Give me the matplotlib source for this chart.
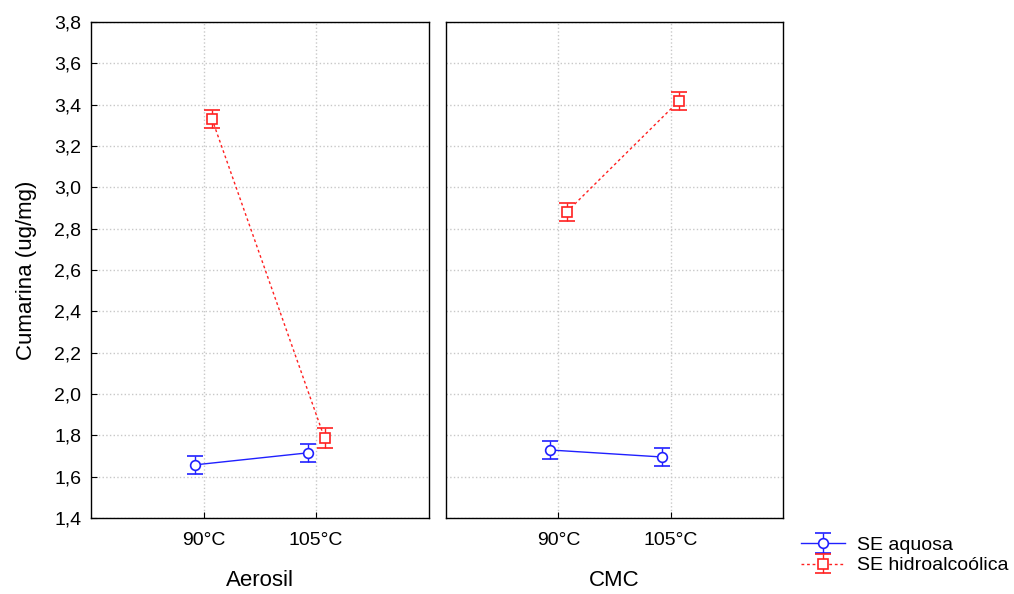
import numpy as np
import matplotlib.pyplot as plt
from matplotlib.ticker import FuncFormatter

plt.rcParams['font.family'] = ['Liberation Sans', 'DejaVu Sans']

temps = ['90°C', '105°C']
paineis = ['Aerosil', 'CMC']
aquosa = {'Aerosil': [1.657, 1.715], 'CMC': [1.729, 1.695]}
hidro = {'Aerosil': [3.331, 1.787], 'CMC': [2.881, 3.418]}
erro_aq = {'Aerosil': [0.045, 0.045], 'CMC': [0.045, 0.045]}
erro_hi = {'Aerosil': [0.045, 0.05], 'CMC': [0.045, 0.045]}

fig = plt.figure(figsize=(10.14, 5.94), dpi=100)
ax1 = fig.add_axes([0.0897, 0.128, 0.333, 0.835])
ax2 = fig.add_axes([0.440, 0.128, 0.332, 0.835], sharey=ax1)

x = np.arange(1, len(temps) + 1)
dx = 0.075
virg = FuncFormatter(lambda v, p: ('%.1f' % v).replace('.', ','))

for ax, nome in zip([ax1, ax2], paineis):
    ea = ax.errorbar(x - dx, aquosa[nome], yerr=erro_aq[nome], color='#2020ff',
                     marker='o', ms=7, mfc='white', mec='#2020ff', mew=1.2,
                     lw=1, capsize=6, elinewidth=1, capthick=1,
                     label='SE aquosa')
    eh = ax.errorbar(x + dx, hidro[nome], yerr=erro_hi[nome], color='#ff2020',
                     marker='s', ms=7, mfc='white', mec='#ff2020', mew=1.2,
                     lw=1, ls=(0, (2, 2)), capsize=6, elinewidth=1, capthick=1,
                     label='SE hidroalcoólica')
    ax.set_xlim(0, 3)
    ax.set_ylim(1.4, 3.8)
    ax.set_yticks(np.arange(1.4, 3.81, 0.2))
    ax.set_xticks(x)
    ax.set_xticklabels(temps, fontsize=14)
    ax.yaxis.set_major_formatter(virg)
    ax.tick_params(direction='in', length=4, labelsize=14, pad=7)
    ax.tick_params(axis='x', pad=10)
    ax.grid(True, color='#c8c8c8', ls=':', lw=1)
    ax.set_axisbelow(True)
    ax.set_xlabel(nome, fontsize=16, labelpad=15)
    for s in ax.spines.values():
        s.set_linewidth(1)

ax1.set_ylabel('Cumarina (ug/mg)', fontsize=16, labelpad=12)
plt.setp(ax2.get_yticklabels(), visible=False)
ax2.tick_params(axis='y', length=0)

fig.legend([ea, eh], ['SE aquosa', 'SE hidroalcoólica'], loc='lower left',
           bbox_to_anchor=(0.782, 0.02), frameon=False, fontsize=14,
           handlelength=2.3, handletextpad=0.6, labelspacing=0.15,
           borderaxespad=0)

fig.savefig('out.png', dpi=100)
